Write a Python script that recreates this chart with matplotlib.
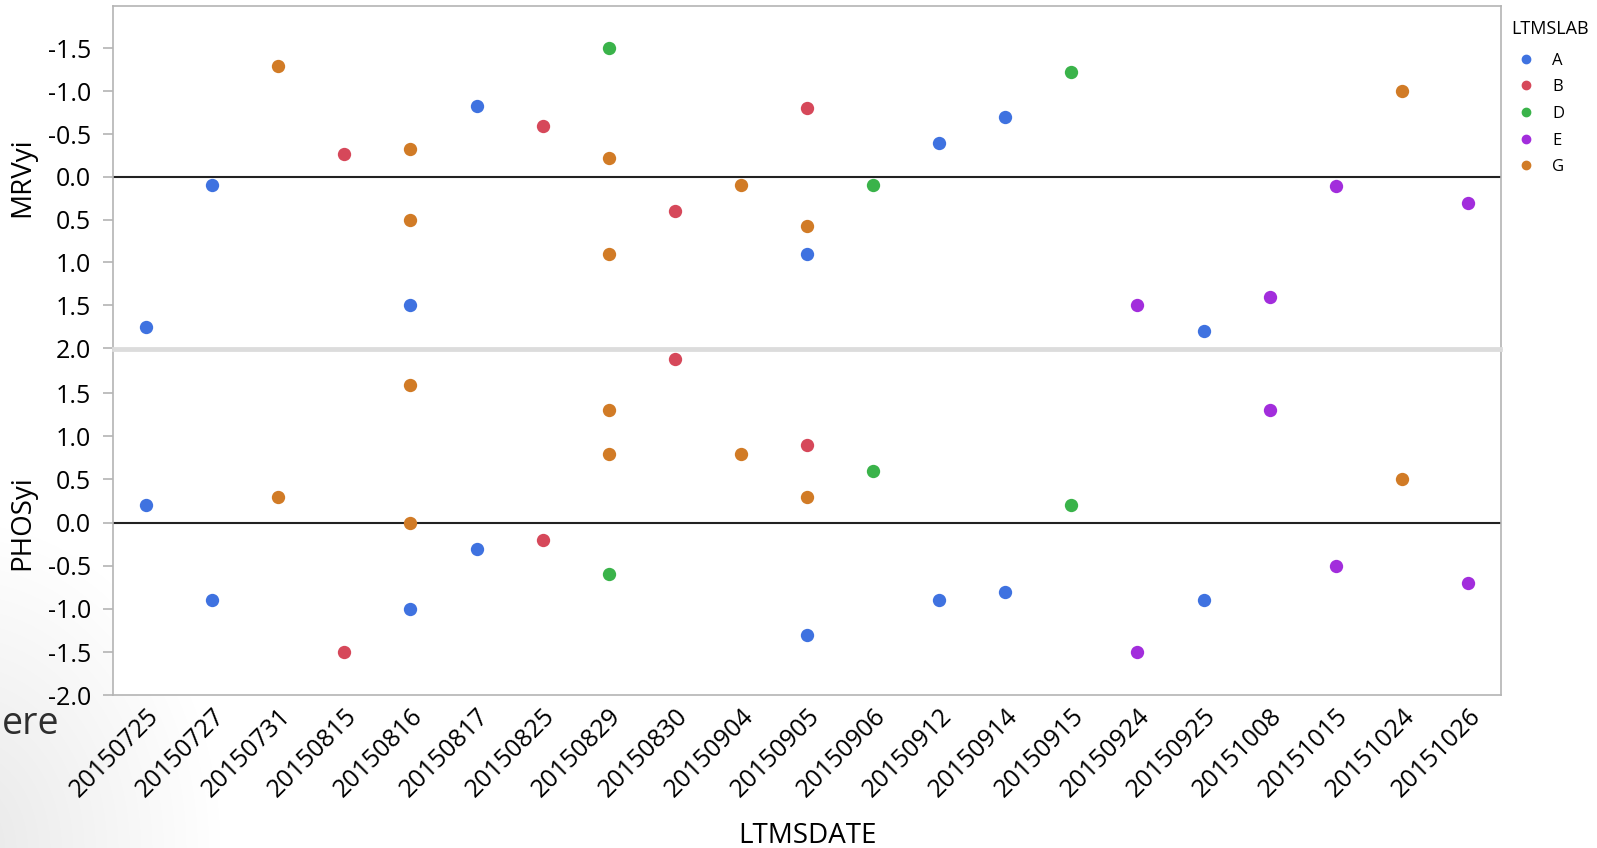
import numpy as np
import matplotlib.pyplot as plt
from matplotlib.lines import Line2D

plt.rcParams['font.family'] = ['Open Sans', 'DejaVu Sans']
plt.rcParams['axes.unicode_minus'] = False

# categories on the x axis
date_labels = ['20150725', '20150727', '20150731', '20150815', '20150816',
               '20150817', '20150825', '20150829', '20150830', '20150904',
               '20150905', '20150906', '20150912', '20150914', '20150915',
               '20150924', '20150925', '20151008', '20151015', '20151024',
               '20151026']

# one row per measurement
dates = ['20150725', '20150727', '20150731', '20150815', '20150816', '20150816',
         '20150816', '20150817', '20150825', '20150829', '20150829', '20150829',
         '20150830', '20150904', '20150905', '20150905', '20150905', '20150906',
         '20150912', '20150914', '20150915', '20150924', '20150925', '20151008',
         '20151015', '20151024', '20151026']
labs = ['A', 'A', 'G', 'B', 'G', 'G',
        'A', 'A', 'B', 'D', 'G', 'G',
        'B', 'G', 'B', 'G', 'A', 'D',
        'A', 'A', 'D', 'E', 'A', 'E',
        'E', 'G', 'E']
mrv = [1.75, 0.1, -1.3, -0.27, -0.33, 0.5,
       1.5, -0.83, -0.6, -1.5, -0.22, 0.9,
       0.4, 0.1, -0.8, 0.58, 0.9, 0.1,
       -0.4, -0.7, -1.23, 1.5, 1.8, 1.4,
       0.11, -1.0, 0.3]
phos = [0.2, -0.9, 0.3, -1.5, 1.6, 0.0,
        -1.0, -0.3, -0.2, -0.6, 1.3, 0.8,
        1.9, 0.8, 0.9, 0.3, -1.3, 0.6,
        -0.9, -0.8, 0.2, -1.5, -0.9, 1.3,
        -0.5, 0.5, -0.7]

lab_order = ['A', 'B', 'D', 'E', 'G']
lab_colors = {'A': '#3f72e0', 'B': '#d6485a', 'D': '#3ab34a',
              'E': '#a22ddc', 'G': '#d17b26'}

W, H = 1597, 848
fig = plt.figure(figsize=(W / 100, H / 100), dpi=100)

# faint slide shading in the lower-left corner
bg = fig.add_axes([0, 0, 1, 1], zorder=-10)
yy, xx = np.mgrid[0:H, 0:W]
d = np.hypot(xx + 40, (H - yy) * 0.8)
shade = 1 - 0.09 * np.clip(1 - d / 260, 0, 1)
bg.imshow(np.dstack([shade] * 3), extent=[0, W, H, 0], aspect='auto')
bg.set_axis_off()
fig.text(2 / W, 1 - 724 / H, 'ere', ha='left', va='center',
         fontsize=27, color='#2e2e2e')

left, right = 113, 1501
ax1 = fig.add_axes([left / W, 1 - 348 / H, (right - left) / W, (348 - 5.7) / H])
ax2 = fig.add_axes([left / W, 1 - 695.3 / H, (right - left) / W, (695.3 - 350) / H])

xpos = np.array([date_labels.index(d) for d in dates])
mrv = np.array(mrv)
phos = np.array(phos)
labs = np.array(labs)

for ax, vals in [(ax1, mrv), (ax2, phos)]:
    ax.axhline(0, color='#222222', lw=1.5, zorder=1)
    for lab in lab_order:
        m = labs == lab
        ax.scatter(xpos[m], vals[m], s=92, color=lab_colors[lab],
                   linewidths=0, zorder=3)
    ax.set_xlim(-0.5, len(date_labels) - 0.5)
    for s in ['left', 'right', 'top', 'bottom']:
        ax.spines[s].set_color('#b4b4b4')
        ax.spines[s].set_linewidth(1.2)
    ax.tick_params(axis='y', length=7, width=1.2, color='#b4b4b4',
                   labelsize=18, pad=9)
    ax.tick_params(axis='x', length=0)

ax1.set_ylim(2.0, -2.0)
ax1.set_yticks([-1.5, -1.0, -0.5, 0.0, 0.5, 1.0, 1.5, 2.0])
ax1.set_xticks([])
ax1.spines['bottom'].set_color('#dcdcdc')
ax1.spines['bottom'].set_linewidth(2)
ax1.set_ylabel('MRVyi', fontsize=20)

ax2.set_ylim(-2.0, 2.0)
ax2.set_yticks([-2.0, -1.5, -1.0, -0.5, 0.0, 0.5, 1.0, 1.5])
ax2.spines['top'].set_color('#dcdcdc')
ax2.spines['top'].set_linewidth(2)
ax2.set_ylabel('PHOSyi', fontsize=20)
ax2.set_xticks(range(len(date_labels)))
ax2.set_xticklabels(date_labels, rotation=45, ha='right', va='top',
                    rotation_mode='anchor', fontsize=18)
ax2.tick_params(axis='x', pad=6)
ax2.set_xlabel('LTMSDATE', fontsize=20, labelpad=14)

for ax in (ax1, ax2):
    ax.yaxis.set_label_coords(-0.055, 0.5)

handles = [Line2D([], [], marker='o', linestyle='', markersize=6,
                  color=lab_colors[l]) for l in lab_order]
leg = fig.legend(handles, lab_order, title='LTMSLAB', loc='upper left',
                 bbox_to_anchor=(1498 / W, 1 - 7 / H), frameon=False,
                 fontsize=12, title_fontsize=13, handlelength=1.8,
                 handletextpad=0.66, labelspacing=0.64, alignment='left',
                 borderpad=0.3)
# a little more room between the title and the first entry (points)
leg._legend_box.sep = 10.2

fig.savefig('out.png', dpi=100)
